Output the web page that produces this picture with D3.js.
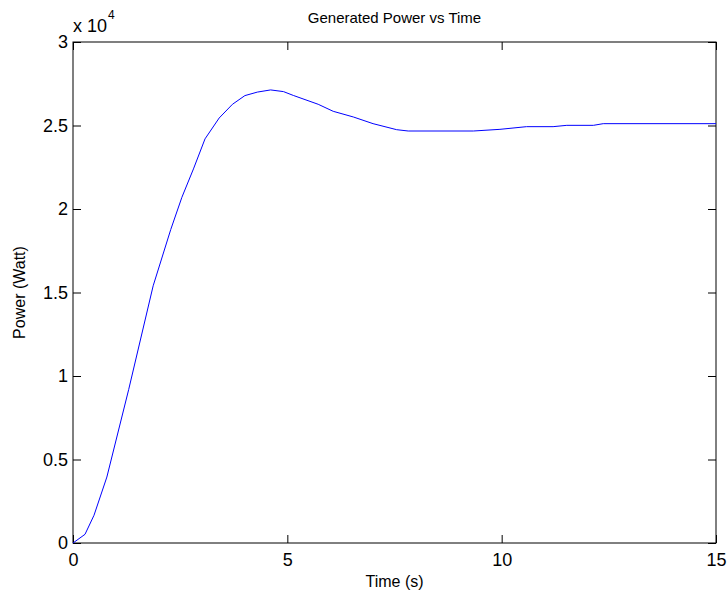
<!DOCTYPE html>
<html>
<head>
<meta charset="utf-8">
<script src="https://cdn.jsdelivr.net/npm/d3@7"></script>
<style>
  body { margin: 0; background: #fff; }
  svg text { font-family: "Liberation Sans", Arial, Helvetica, sans-serif; fill: #000; }
</style>
</head>
<body>
<div id="chart"></div>
<script>
// Data
const timeS = [0, 0.28, 0.49, 0.79, 1.3, 1.87, 2.28, 2.54, 2.81, 3.08, 3.41, 3.72, 4.01, 4.30, 4.61, 4.91,
  5.14, 5.72, 6.07, 6.54, 7.0, 7.55, 7.82, 9.34, 9.96, 10.58, 11.2, 11.52, 12.14, 12.37, 15];
const powerW = [0, 520, 1660, 3950, 9200, 15400, 18770, 20700, 22400, 24200, 25450, 26270, 26790, 27000, 27130, 27030,
  26800, 26270, 25850, 25510, 25110, 24750, 24670, 24670, 24770, 24930, 24930, 25010, 25010, 25110, 25110];
const xTicks = [0, 5, 10, 15];
const yTicks = [0, 5000, 10000, 15000, 20000, 25000, 30000];

const W = 728, H = 600;
const margin = { top: 42, right: 12, bottom: 57, left: 73 };
const width = W - margin.left - margin.right;
const height = H - margin.top - margin.bottom;

const svg = d3.select("#chart").append("svg")
  .attr("width", W)
  .attr("height", H);

const g = svg.append("g")
  .attr("transform", `translate(${margin.left},${margin.top})`);

const x = d3.scaleLinear().domain([0, 15]).range([0, width]);
const y = d3.scaleLinear().domain([0, 30000]).range([height, 0]);

// Axes with inward ticks (MATLAB style)
const fmtY = d => d3.format("~g")(d / 1e4);

const styleAxis = sel => {
  sel.selectAll("text").style("font-size", "18px");
  sel.selectAll(".domain").remove();
  sel.selectAll(".tick line").attr("stroke", "#000");
};

g.append("g")
  .attr("transform", `translate(0,${height})`)
  .call(d3.axisBottom(x).tickValues(xTicks).tickSizeInner(-8).tickSizeOuter(0).tickPadding(10).tickFormat(d3.format("~g")))
  .call(styleAxis);

g.append("g")
  .call(d3.axisLeft(y).tickValues(yTicks).tickSizeInner(-8).tickSizeOuter(0).tickPadding(5).tickFormat(fmtY))
  .call(styleAxis);

g.append("g")
  .call(d3.axisTop(x).tickValues(xTicks).tickSizeInner(-8).tickSizeOuter(0).tickFormat(""))
  .call(styleAxis);

g.append("g")
  .attr("transform", `translate(${width},0)`)
  .call(d3.axisRight(y).tickValues(yTicks).tickSizeInner(-8).tickSizeOuter(0).tickFormat(""))
  .call(styleAxis);

// Box
g.append("rect")
  .attr("x", 0)
  .attr("y", 0)
  .attr("width", width)
  .attr("height", height)
  .attr("fill", "none")
  .attr("stroke", "#000")
  .attr("stroke-width", 1);

// Data line
const line = d3.line()
  .x((d, i) => x(timeS[i]))
  .y(d => y(d));

g.append("path")
  .datum(powerW)
  .attr("fill", "none")
  .attr("stroke", "#0000ff")
  .attr("stroke-width", 1)
  .attr("d", line);

// Exponent label
const expo = svg.append("text")
  .attr("x", 73)
  .attr("y", 32)
  .style("font-size", "18px");
expo.append("tspan").text("x 10");
expo.append("tspan")
  .attr("dy", -13)
  .attr("dx", 1)
  .style("font-size", "12px")
  .text("4");

// Title and axis labels
svg.append("text")
  .attr("x", margin.left + width / 2)
  .attr("y", 23)
  .attr("text-anchor", "middle")
  .style("font-size", "15px")
  .text("Generated Power vs Time");

svg.append("text")
  .attr("x", margin.left + width / 2)
  .attr("y", 587)
  .attr("text-anchor", "middle")
  .style("font-size", "16px")
  .text("Time (s)");

svg.append("text")
  .attr("transform", `translate(25,${margin.top + height / 2}) rotate(-90)`)
  .attr("text-anchor", "middle")
  .style("font-size", "16px")
  .text("Power (Watt)");
</script>
</body>
</html>
